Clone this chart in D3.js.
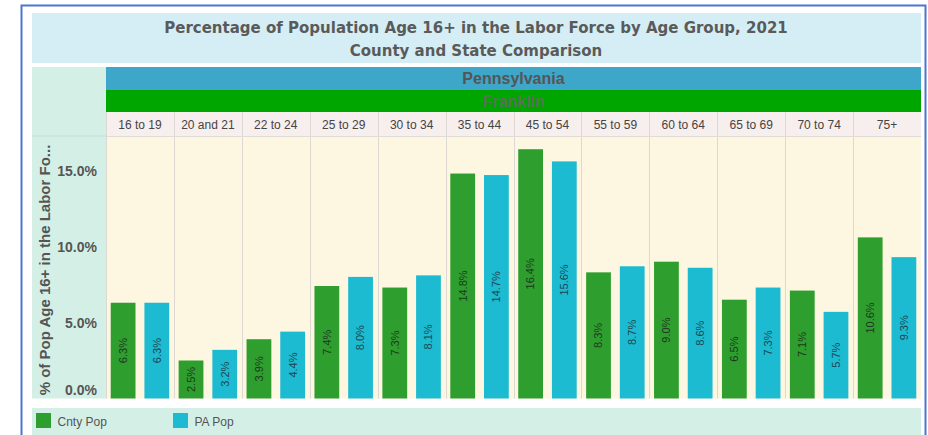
<!DOCTYPE html>
<html>
<head>
<meta charset="utf-8">
<script src="https://cdn.jsdelivr.net/npm/d3@7"></script>
<style>
  body { margin: 0; background: #fff; }
  svg { display: block; }
</style>
</head>
<body>
<svg id="chart" width="928" height="435"></svg>
<script>
// data
var ageGroups = ['16 to 19', '20 and 21', '22 to 24', '25 to 29', '30 to 34', '35 to 44',
                 '45 to 54', '55 to 59', '60 to 64', '65 to 69', '70 to 74', '75+'];
var cntyPop = [6.3, 2.5, 3.9, 7.4, 7.3, 14.8, 16.4, 8.3, 9.0, 6.5, 7.1, 10.6];
var paPop   = [6.3, 3.2, 4.4, 8.0, 8.1, 14.7, 15.6, 8.7, 8.6, 7.3, 5.7, 9.3];
var seriesNames = ['Cnty Pop', 'PA Pop'];
var yTicks = [0, 5, 10, 15];

var titleLines = ['Percentage of Population Age 16+ in the Labor Force by Age Group, 2021',
                  'County and State Comparison'];
var stateName = 'Pennsylvania', countyName = 'Franklin';
var yTitle = '% of Pop Age 16+ in the Labor Fo...';

var colors = { 'Cnty Pop': '#2e9e2e', 'PA Pop': '#1cbbd1' };

var svg = d3.select('#chart')
    , left = 106, right = 921
    , plotTop = 136, plotBottom = 398.5
    ;

// outer frame + title band
svg.append('rect').attr('x', 21.5).attr('y', 5.5).attr('width', 904).attr('height', 440)
  .attr('fill', '#fff').attr('stroke', '#4a76cf').attr('stroke-width', 2);
svg.append('rect').attr('x', 32).attr('y', 13).attr('width', right - 32).attr('height', 50)
  .attr('fill', '#d5eef5');
svg.selectAll('text.title').data(titleLines).enter().append('text')
  .attr('class', 'title')
  .attr('x', 476).attr('y', function(d, i) { return 33 + i * 23; })
  .attr('text-anchor', 'middle')
  .style('font', 'bold 15px "DejaVu Sans", sans-serif')
  .attr('fill', '#5a5a5a')
  .text(function(d) { return d; });

// left panel for the y axis
svg.append('rect').attr('x', 32).attr('y', 67).attr('width', left - 32).attr('height', plotBottom - 67)
  .attr('fill', '#d4f0e6');
svg.append('line').attr('x1', 32).attr('x2', left).attr('y1', plotTop).attr('y2', plotTop)
  .attr('stroke', '#c8dcd4');

// header bands
svg.append('rect').attr('x', left).attr('y', 67).attr('width', right - left).attr('height', 23)
  .attr('fill', '#3ea6c8');
svg.append('text').attr('x', (left + right) / 2).attr('y', 84).attr('text-anchor', 'middle')
  .style('font', 'bold 16px "Liberation Sans", Arial, sans-serif').attr('fill', '#555')
  .text(stateName);
svg.append('rect').attr('x', left).attr('y', 90).attr('width', right - left).attr('height', 22)
  .attr('fill', '#00a600');
svg.append('text').attr('x', (left + right) / 2).attr('y', 106.5).attr('text-anchor', 'middle')
  .style('font', 'bold 16px "Liberation Sans", Arial, sans-serif').attr('fill', '#557355')
  .text(countyName);

// scales
var x0 = d3.scaleBand().domain(ageGroups).range([left, right]);
var x1 = d3.scaleBand().domain(seriesNames).range([0, x0.bandwidth()])
  .paddingInner(0.265).paddingOuter(0.14);
var y = d3.scaleLinear().domain([0, 17.27]).range([plotBottom, plotTop]);

// category header row
svg.append('rect').attr('x', left).attr('y', 112).attr('width', right - left).attr('height', 24)
  .attr('fill', '#f7eeee');
svg.append('rect').attr('x', left).attr('y', plotTop).attr('width', right - left)
  .attr('height', plotBottom - plotTop).attr('fill', '#fdf6e1');

var cols = svg.selectAll('g.col').data(ageGroups).enter().append('g')
  .attr('class', 'col')
  .attr('transform', function(d) { return 'translate(' + x0(d) + ',0)'; });

cols.append('text')
  .attr('x', x0.bandwidth() / 2).attr('y', 128.5).attr('text-anchor', 'middle')
  .style('font', '12px "Liberation Sans", Arial, sans-serif').attr('fill', '#444')
  .text(function(d) { return d; });

// column separators
svg.selectAll('line.sep').data(ageGroups.slice(1)).enter().append('line')
  .attr('class', 'sep')
  .attr('x1', function(d) { return Math.round(x0(d)) + 0.5; })
  .attr('x2', function(d) { return Math.round(x0(d)) + 0.5; })
  .attr('y1', 112).attr('y2', plotBottom)
  .attr('stroke', '#ddd8d4');
svg.append('line').attr('x1', left).attr('x2', right).attr('y1', plotTop + 0.5).attr('y2', plotTop + 0.5)
  .attr('stroke', '#e0dcd8');
svg.append('line').attr('x1', left + 0.5).attr('x2', left + 0.5).attr('y1', 112).attr('y2', plotBottom)
  .attr('stroke', '#ddd8d4');

// bars
var bars = cols.selectAll('g.bar')
  .data(function(d, i) {
    return [{ s: 'Cnty Pop', v: cntyPop[i] }, { s: 'PA Pop', v: paPop[i] }];
  })
  .enter().append('g').attr('class', 'bar');

bars.append('rect')
  .attr('x', function(d) { return x1(d.s); })
  .attr('width', x1.bandwidth())
  .attr('y', function(d) { return y(d.v); })
  .attr('height', function(d) { return y(0) - y(d.v); })
  .attr('fill', function(d) { return colors[d.s]; });

bars.append('text')
  .attr('transform', function(d) {
    var cx = x1(d.s) + x1.bandwidth() / 2, cy = (y(d.v) + y(0)) / 2;
    return 'translate(' + cx + ',' + cy + ') rotate(-90)';
  })
  .attr('text-anchor', 'middle').attr('dy', '0.35em')
  .style('font', '11px "Liberation Sans", Arial, sans-serif')
  .attr('fill', function(d) { return d.s === 'Cnty Pop' ? '#1e3a1e' : '#1f4650'; })
  .text(function(d) { return d.v.toFixed(1) + '%'; });

// y axis labels
svg.selectAll('text.ytick').data(yTicks).enter().append('text')
  .attr('class', 'ytick')
  .attr('x', 97)
  .attr('y', function(d) { return d === 0 ? y(d) - 8 : y(d) + 1; })
  .attr('dy', '0.35em').attr('text-anchor', 'end')
  .style('font', 'bold 14px "Liberation Sans", Arial, sans-serif').attr('fill', '#555')
  .text(function(d) { return d.toFixed(1) + '%'; });

svg.append('text')
  .attr('transform', 'translate(45,' + ((143 + 397) / 2) + ') rotate(-90)')
  .attr('text-anchor', 'middle').attr('dy', '0.35em')
  .style('font', 'bold 15px "Liberation Sans", Arial, sans-serif').attr('fill', '#555')
  .text(yTitle);

// legend
svg.append('rect').attr('x', 32).attr('y', 408).attr('width', right - 32).attr('height', 30)
  .attr('fill', '#d4f0e6');
var legend = svg.selectAll('g.legend').data(seriesNames).enter().append('g')
  .attr('class', 'legend')
  .attr('transform', function(d, i) { return 'translate(' + (36 + i * 137) + ',413)'; });
legend.append('rect').attr('width', 15).attr('height', 15)
  .attr('fill', function(d) { return colors[d]; });
legend.append('text').attr('x', 21.5).attr('y', 13)
  .style('font', '12px "Liberation Sans", Arial, sans-serif').attr('fill', '#555')
  .text(function(d) { return d; });
</script>
</body>
</html>
